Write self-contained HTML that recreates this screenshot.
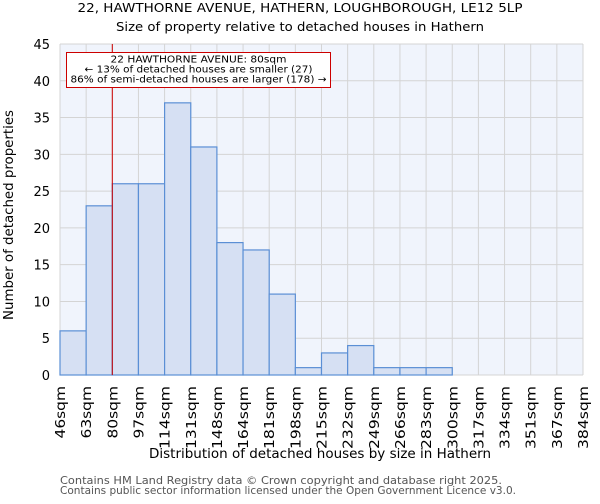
<!DOCTYPE html>
<html><head><meta charset="utf-8"><style>
body{margin:0;background:#fff;font-family:"DejaVu Sans","Liberation Sans",sans-serif;}
svg text{font-family:"DejaVu Sans","Liberation Sans",sans-serif;}
</style></head><body>
<svg id="chart" width="600" height="500">
<text x="300" y="12" text-anchor="middle" font-size="12" textLength="445" lengthAdjust="spacingAndGlyphs">22, HAWTHORNE AVENUE, HATHERN, LOUGHBOROUGH, LE12 5LP</text>
<text x="300" y="31" text-anchor="middle" font-size="12" textLength="368" lengthAdjust="spacingAndGlyphs">Size of property relative to detached houses in Hathern</text>
<g id="plot"></g>
<text x="320" y="458" text-anchor="middle" font-size="13" textLength="342" lengthAdjust="spacingAndGlyphs">Distribution of detached houses by size in Hathern</text>
<text transform="translate(13,215) rotate(-90)" text-anchor="middle" font-size="13" textLength="210" lengthAdjust="spacingAndGlyphs">Number of detached properties</text>
<text x="60" y="484" font-size="10.5" fill="#555" textLength="442" lengthAdjust="spacingAndGlyphs">Contains HM Land Registry data © Crown copyright and database right 2025.</text>
<text x="60" y="494" font-size="10.5" fill="#555" textLength="456" lengthAdjust="spacingAndGlyphs">Contains public sector information licensed under the Open Government Licence v3.0.</text>
</svg>
<script>
const binLabels=["46sqm","63sqm","80sqm","97sqm","114sqm","131sqm","148sqm","164sqm","181sqm","198sqm","215sqm","232sqm","249sqm","266sqm","283sqm","300sqm","317sqm","334sqm","351sqm","367sqm","384sqm"];
const counts=[6,23,26,26,37,31,18,17,11,1,3,4,1,1,1,0,0,0,0,0];
const yTicks=[0,5,10,15,20,25,30,35,40,45];
const markerIndex=2;
const NS="http://www.w3.org/2000/svg";
const L=60,R=583,T=44,B=375,yMax=45;
const g=document.getElementById('plot');
function xs(i){return L+(R-L)*i/counts.length;}
function ys(v){return B-(B-T)*v/yMax;}
function mk(tag,attrs){const e=document.createElementNS(NS,tag);for(const k in attrs)e.setAttribute(k,attrs[k]);g.appendChild(e);return e;}
let e=mk('rect',{x:L,y:T,width:R-L,height:B-T,fill:'#f0f4fc'});


yTicks.forEach(t=>{
  let l=mk('line',{x1:L,x2:R,y1:ys(t),y2:ys(t),stroke:'#d4d4d4','stroke-width':1});
  
  
  let tx=mk('text',{x:L-10,y:ys(t)+5,'text-anchor':'end','font-size':13});
  tx.textContent=t;
  
  
});
binLabels.forEach((lab,i)=>{
  let l=mk('line',{x1:xs(i),x2:xs(i),y1:T,y2:B,stroke:'#d4d4d4','stroke-width':1});
  
  
});
counts.forEach((c,i)=>{
  let r=mk('rect',{x:xs(i),y:ys(c),width:xs(i+1)-xs(i),height:B-ys(c),fill:'#d6e0f3',stroke:'#5b8fd5','stroke-width':1.2});
  
  
});
binLabels.forEach((lab,i)=>{
  let tx=mk('text',{transform:`translate(${xs(i)+5},386) rotate(-90)`,'text-anchor':'end','font-size':13,textLength:lab.length*10.5,lengthAdjust:'spacingAndGlyphs'});
  tx.textContent=lab;
  
  
});
let ml=mk('line',{x1:xs(markerIndex),x2:xs(markerIndex),y1:T,y2:B,stroke:'#cc0000','stroke-width':1});


let box=mk('rect',{x:66.5,y:52.5,width:264,height:35,fill:'#fff',stroke:'#cc0000','stroke-width':1});


const ann=[["22 HAWTHORNE AVENUE: 80sqm",176],["← 13% of detached houses are smaller (27)",228],["86% of semi-detached houses are larger (178) →",256]];
ann.forEach((a,k)=>{
  let tx=mk('text',{x:198.5,y:62.5+k*10,'text-anchor':'middle','font-size':10,textLength:a[1],lengthAdjust:'spacingAndGlyphs'});
  tx.textContent=a[0];
  
  
});
</script>
</body></html>
